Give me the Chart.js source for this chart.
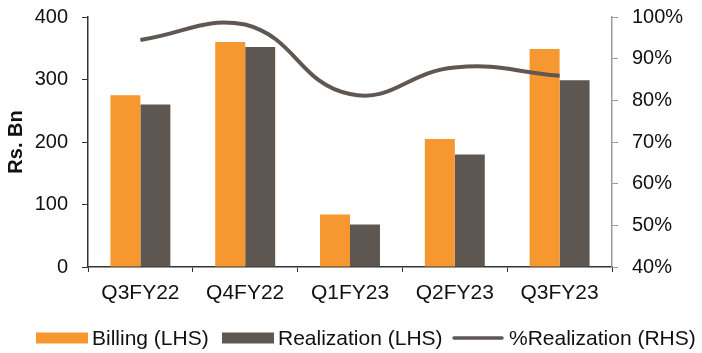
<!DOCTYPE html>
<html>
<head>
<meta charset="utf-8">
<script src="https://cdn.jsdelivr.net/npm/chart.js@4/dist/chart.umd.min.js"></script>
<style>
  html, body { margin: 0; padding: 0; background: #fff; }
  #wrap { width: 702px; height: 353px; position: relative; }
</style>
</head>
<body>
<div id="wrap"><canvas id="c" width="702" height="353"></canvas></div>
<script>
// Quarterly billing vs realization (Rs. Bn) and realization rate
const quarters = ['Q3FY22', 'Q4FY22', 'Q1FY23', 'Q2FY23', 'Q3FY23'];
const billing = [275, 360, 84, 205, 349];
const realization = [260, 352, 68, 180, 299];
const realizationPct = [94.5, 98.2, 81.5, 87.9, 85.9];
const leftTicks = [0, 100, 200, 300, 400];
const rightTicks = [40, 50, 60, 70, 80, 90, 100];

const ORANGE = '#F7972F';
const DARK = '#5E5651';
const LINE = '#5F5753';
const FONT = "'Liberation Sans', Arial, sans-serif";

// Legend drawn along the bottom edge
const bottomLegend = {
  id: 'bottomLegend',
  afterDraw(chart) {
    const ctx = chart.ctx;
    const y = 338;
    const items = [
      { x: 36, kind: 'box', color: ORANGE, text: 'Billing (LHS)' },
      { x: 222, kind: 'box', color: DARK, text: 'Realization (LHS)' },
      { x: 453, kind: 'line', color: LINE, text: '%Realization (RHS)' }
    ];
    ctx.save();
    ctx.font = '21px ' + FONT;
    ctx.textBaseline = 'middle';
    items.forEach(it => {
      if (it.kind === 'box') {
        ctx.fillStyle = it.color;
        ctx.fillRect(it.x, y - 5.5, 52, 11);
      } else {
        ctx.strokeStyle = it.color;
        ctx.lineWidth = 3.5;
        ctx.lineCap = 'round';
        ctx.beginPath();
        ctx.moveTo(it.x + 1, y);
        ctx.lineTo(it.x + 49, y);
        ctx.stroke();
      }
      ctx.fillStyle = '#111';
      ctx.fillText(it.text, it.x + 56, y + 1);
    });
    ctx.restore();
  }
};

new Chart(document.getElementById('c'), {
  type: 'bar',
  data: {
    labels: quarters,
    datasets: [
      {
        type: 'line',
        label: '%Realization (RHS)',
        data: realizationPct,
        yAxisID: 'y2',
        borderColor: LINE,
        borderWidth: 4,
        pointRadius: 0,
        tension: 0.45,
        fill: false,
        order: 0
      },
      {
        label: 'Billing (LHS)',
        data: billing,
        backgroundColor: ORANGE,
        yAxisID: 'y',
        barPercentage: 1,
        categoryPercentage: 0.572,
        order: 1
      },
      {
        label: 'Realization (LHS)',
        data: realization,
        backgroundColor: DARK,
        yAxisID: 'y',
        barPercentage: 1,
        categoryPercentage: 0.572,
        order: 1
      }
    ]
  },
  options: {
    responsive: false,
    animation: false,
    layout: { padding: { top: 17, left: 0, right: 0, bottom: 0 } },
    plugins: {
      legend: { display: false },
      tooltip: { enabled: false }
    },
    scales: {
      x: {
        offset: true,
        grid: {
          offset: true,
          drawOnChartArea: false,
          drawTicks: true,
          tickLength: 5,
          color: '#333',
          lineWidth: 1
        },
        border: { display: true, color: '#333', width: 1.5 },
        ticks: {
          color: '#111',
          font: { family: FONT, size: 21 },
          padding: 9,
          maxRotation: 0
        },
        afterFit(scale) { scale.height = 86; }
      },
      y: {
        position: 'left',
        min: 0,
        max: 400,
        afterBuildTicks(scale) { scale.ticks = leftTicks.map(v => ({ value: v })); },
        grid: {
          drawOnChartArea: false,
          drawTicks: true,
          tickLength: 6,
          color: '#333'
        },
        border: { display: true, color: '#333', width: 1.5 },
        ticks: {
          color: '#111',
          font: { family: FONT, size: 20, lineHeight: 0.2 },
          padding: 14
        },
        title: {
          display: true,
          text: 'Rs. Bn',
          color: '#111',
          font: { family: FONT, size: 20, weight: 'bold' },
          padding: { top: 4, bottom: 0 }
        },
        afterFit(scale) { scale.width = 88; }
      },
      y2: {
        position: 'right',
        min: 40,
        max: 100,
        afterBuildTicks(scale) { scale.ticks = rightTicks.map(v => ({ value: v })); },
        grid: {
          drawOnChartArea: false,
          drawTicks: true,
          tickLength: 6,
          color: '#999'
        },
        border: { display: true, color: '#999', width: 1.5 },
        ticks: {
          color: '#111',
          font: { family: FONT, size: 20, lineHeight: 0.2 },
          padding: 14,
          callback: v => v + '%'
        },
        afterFit(scale) { scale.width = 90; }
      }
    }
  },
  plugins: [bottomLegend]
});
</script>
</body>
</html>
